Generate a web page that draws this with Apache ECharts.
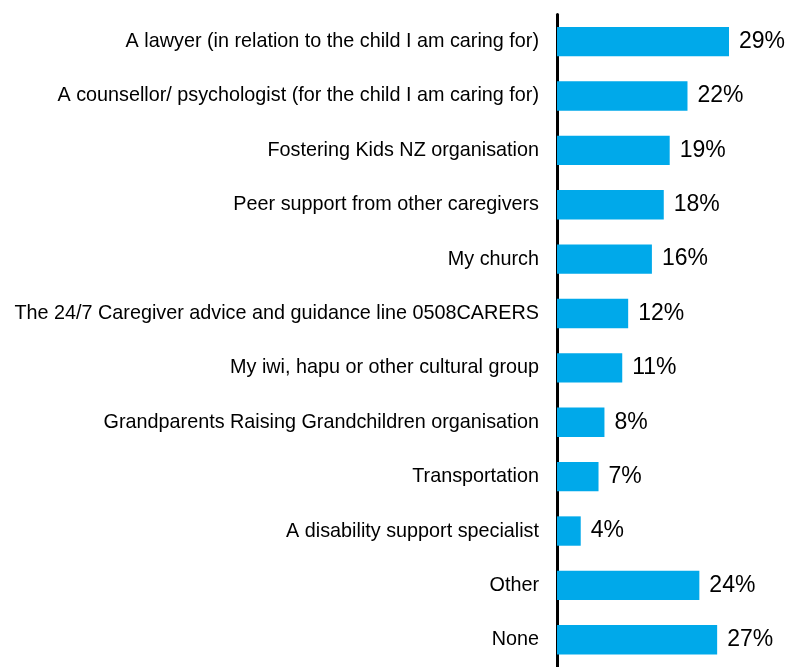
<!DOCTYPE html>
<html>
<head>
<meta charset="utf-8">
<style>
  html, body { margin: 0; padding: 0; background: #fff; }
  #chart { width: 787px; height: 667px; }
</style>
<script src="https://cdn.jsdelivr.net/npm/echarts@6/dist/echarts.min.js"></script>
</head>
<body>
<div id="chart"></div>
<script>
// Sources of support used by caregivers (% of respondents)
const categories = [
  'A lawyer (in relation to the child I am caring for)',
  'A counsellor/ psychologist (for the child I am caring for)',
  'Fostering Kids NZ organisation',
  'Peer support from other caregivers',
  'My church',
  'The 24/7 Caregiver advice and guidance line 0508CARERS',
  'My iwi, hapu or other cultural group',
  'Grandparents Raising Grandchildren organisation',
  'Transportation',
  'A disability support specialist',
  'Other',
  'None'
];
const shares = [29, 22, 19, 18, 16, 12, 11, 8, 7, 4, 24, 27];

const FONT = 'Arial, "Liberation Sans", sans-serif';

const chart = echarts.init(document.getElementById('chart'), null, { renderer: 'canvas' });
chart.setOption({
  animation: false,
  backgroundColor: '#ffffff',
  grid: { left: 557, top: 14.4, width: 207.6, height: 663.3, containLabel: false },
  xAxis: {
    type: 'value',
    min: 0,
    max: 35,
    show: false
  },
  yAxis: {
    type: 'category',
    inverse: true,
    data: categories,
    axisLine: { show: true, lineStyle: { color: '#000000', width: 3 } },
    axisTick: { show: false },
    axisLabel: {
      color: '#000000',
      fontFamily: FONT,
      fontSize: 19.8,
      margin: 18,
      padding: [2, 0, 0, 0]
    },
    splitLine: { show: false }
  },
  series: [{
    type: 'bar',
    data: shares,
    barWidth: '54%',
    itemStyle: { color: '#00A9EA' },
    label: {
      show: true,
      position: 'right',
      distance: 10,
      formatter: '{c}%',
      color: '#000000',
      fontFamily: FONT,
      fontSize: 23,
      padding: [3, 0, 0, 0]
    }
  }]
});
</script>
</body>
</html>
